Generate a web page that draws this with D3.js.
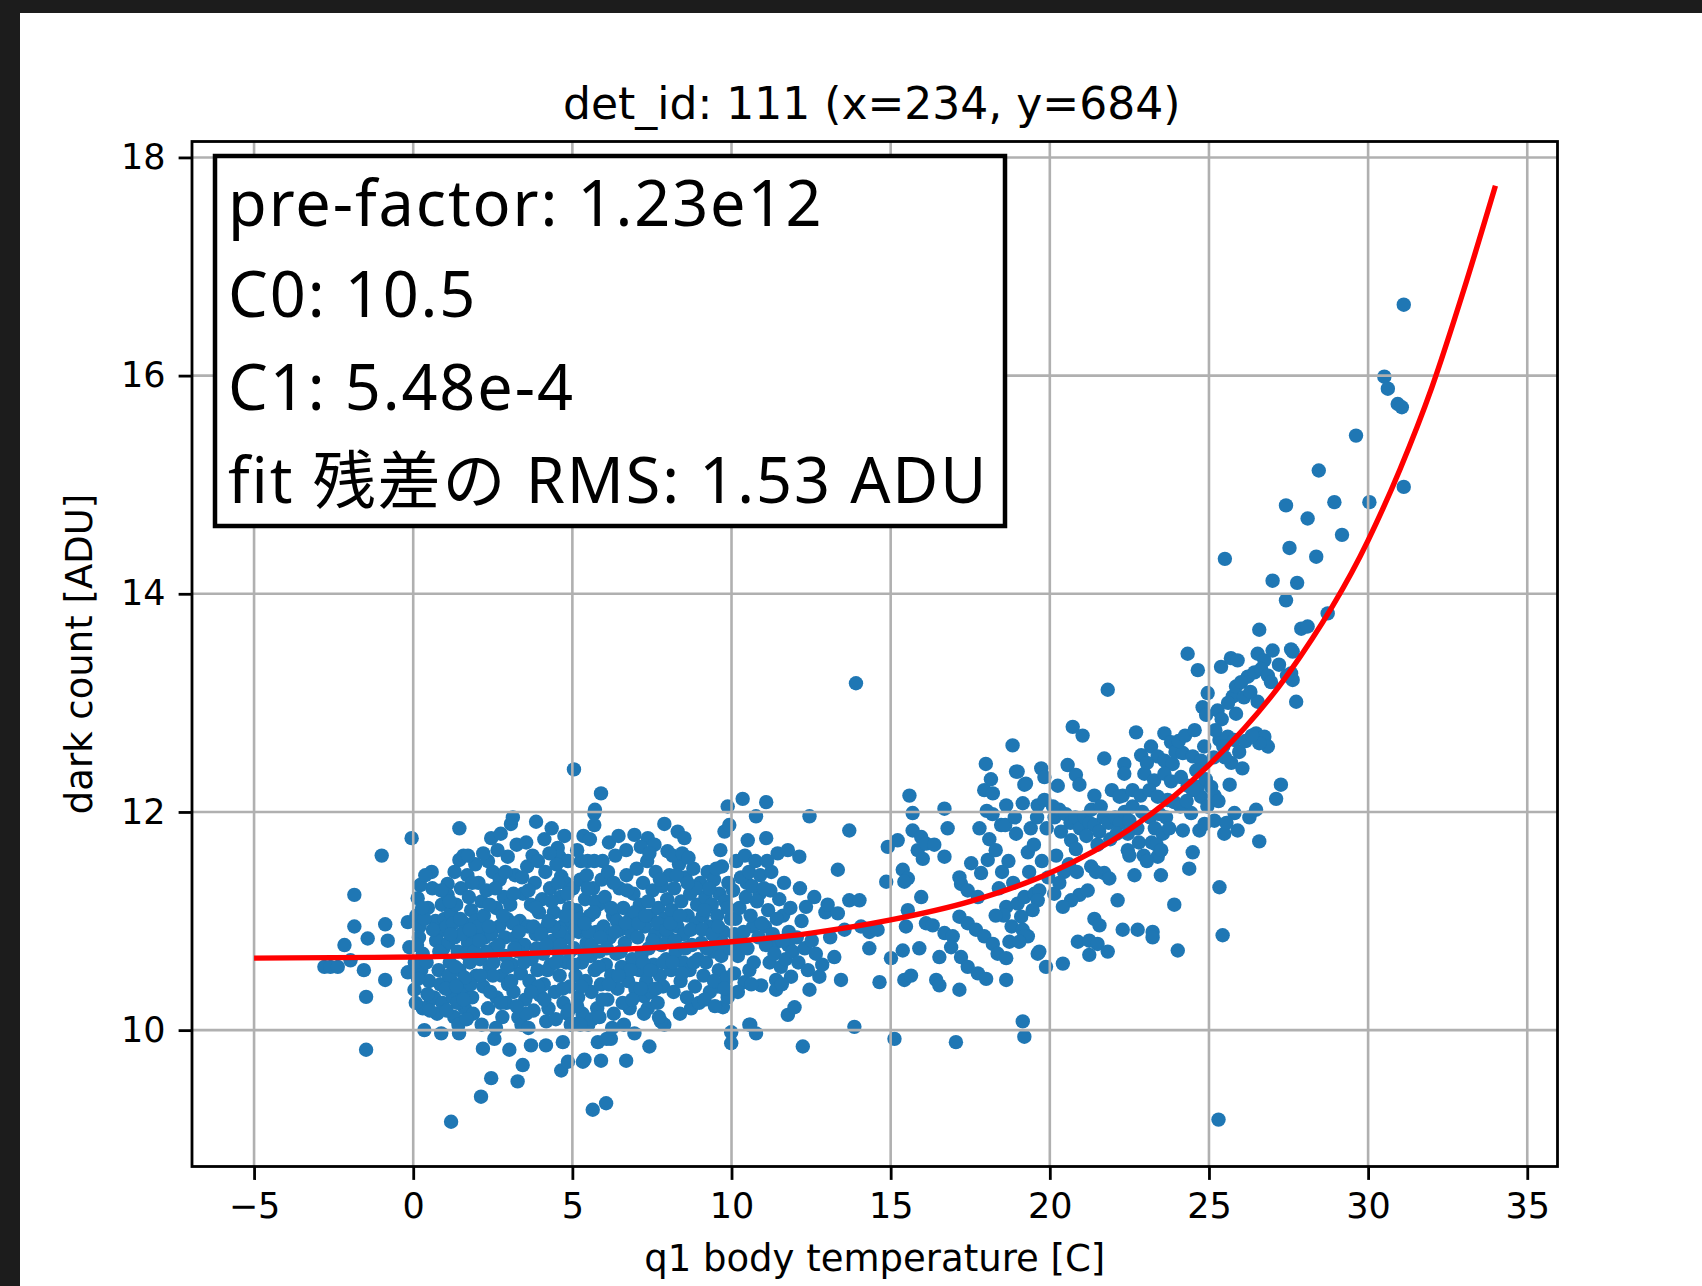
<!DOCTYPE html>
<html>
<head>
<meta charset="utf-8">
<script src="https://cdn.jsdelivr.net/npm/d3@7"></script>
<style>
html, body { margin: 0; padding: 0; background: #1c1c1c; overflow: hidden; }
svg { display: block; }
</style>
</head>
<body>
<svg id="chart" width="1702" height="1286"></svg>
<script>
// ---------------- data ----------------
const titleText = "det_id: 111 (x=234, y=684)";
const xLabelText = "q1 body temperature [C]";
const yLabelText = "dark count [ADU]";
const fitLines = ["pre-factor: 1.23e12", "C0: 10.5", "C1: 5.48e-4", "fit 残差の RMS: 1.53 ADU"];
const xTicks = [-5, 0, 5, 10, 15, 20, 25, 30, 35];
const yTicks = [10, 12, 14, 16, 18];

// fitted curve
const fitTemp  = [-5, -2.5, 0, 2.5, 5, 7.5, 10, 12.5, 15, 17.5, 20, 22.5, 25, 27.5, 30, 31, 32, 33, 34];
const fitCount = [10.66, 10.665, 10.67, 10.69, 10.72, 10.755, 10.81, 10.89, 11.01, 11.18, 11.44, 11.84, 12.43, 13.27, 14.49, 15.14, 15.89, 16.78, 17.74];

// measurements [temperature, dark count]
const pointsCold = [
[-2.79,10.58],[-2.6,10.58],[-2.37,10.58],[-2.16,10.78],[-1.97,10.64],[-1.85,11.24],[-1.85,10.95],[-1.43,10.84],
[-1.55,10.55],[-1.48,10.305],[-1.48,9.82],[-0.99,11.6],[-0.88,10.97],[-0.8,10.82],[-0.88,10.46],[-0.17,10.99],
[-0.17,10.53],[-0.12,10.76],[-0.05,11.76]
];
const pointsCool = [
[0.04,10.37],[0.14,11.21],[0.46,11.12],[0.35,10.0],[0.77,10.89],[0.88,9.97],[0.1,11.05],[0.2,10.95],[0.25,10.55],
[0.3,10.7],[0.05,10.62],[0.5,10.45],[0.55,10.28],[0.6,11.3],[0.7,11.0],[0.65,10.3],[0.8,10.55],[0.85,10.42],
[0.9,11.15],[0.95,10.75],[0.35,11.02],[0.15,10.47],[0.75,10.15],[0.3,10.2],[0.58,11.45],[0.92,10.25],[0.18,10.85],
[0.98,11.02],[0.45,10.33],[0.72,10.82],[0.22,11.33],
[1.08,11.34],[1.08,11.24],[1.19,11.07],[1.29,10.12],[1.19,9.16],[1.45,11.85],[1.45,11.56],[1.44,9.97],[1.05,10.95],
[1.1,10.8],[1.15,10.62],[1.2,10.45],[1.25,10.3],[1.3,10.85],[1.35,11.15],[1.4,10.72],[1.45,10.55],[1.5,11.3],
[1.55,10.38],[1.6,10.98],[1.62,10.2],[1.7,11.42],[1.72,10.8],[1.78,10.62],[1.82,11.1],[1.85,10.3],[1.9,10.9],
[1.95,11.0],[1.98,10.5],[1.3,11.45],[1.52,10.88],[1.66,10.7],[1.12,10.5],[1.38,10.25],[1.88,10.15],[1.58,11.6],
[1.75,11.22],[1.95,11.52],[1.25,10.98],[1.8,10.42],[1.42,10.05],[1.68,10.1],
[2.13,9.39],[2.45,9.56],[2.19,9.83],[2.55,9.92],[2.45,11.76],[2.97,11.59],[2.05,11.35],[2.1,10.65],[2.15,11.18],
[2.2,10.4],[2.25,10.85],[2.3,11.28],[2.35,10.2],[2.4,10.58],[2.5,11.45],[2.55,10.75],[2.6,11.12],[2.62,10.3],
[2.7,10.95],[2.72,11.38],[2.78,10.5],[2.8,10.12],[2.85,11.22],[2.9,10.68],[2.95,11.02],[2.98,10.42],[2.15,10.05],
[2.35,11.55],[2.65,11.65],[2.45,10.88],[2.05,10.95],[2.88,10.85],[2.6,10.02],[2.3,10.72],[2.75,11.8],[2.2,11.62],
[2.5,10.5],[2.92,10.25],
[3.07,11.89],[3.13,11.95],[3.86,11.91],[3.02,9.82],[3.44,9.68],[3.28,9.53],[3.7,9.86],[3.05,11.15],[3.1,10.6],
[3.15,10.35],[3.2,11.42],[3.22,10.85],[3.3,10.12],[3.35,11.0],[3.38,10.52],[3.45,11.25],[3.5,10.78],[3.52,10.28],
[3.58,11.5],[3.6,10.95],[3.65,10.45],[3.7,11.15],[3.72,10.65],[3.78,10.18],[3.82,11.35],[3.85,10.88],[3.9,10.55],
[3.95,11.08],[3.98,10.32],[3.25,11.7],[3.55,11.72],[3.4,10.05],[3.75,11.6],[3.12,10.98],[3.62,10.02],[3.92,11.55],
[3.3,10.72],[3.88,10.75],
[4.12,11.75],[4.54,11.67],[4.59,11.59],[4.65,11.41],[4.86,11.55],[4.17,9.86],[4.7,9.89],[4.65,9.63],[4.86,9.71],
[4.18,10.08],[4.84,10.15],[4.05,11.2],[4.08,10.7],[4.1,10.42],[4.15,11.45],[4.2,10.95],[4.25,10.2],[4.3,11.3],
[4.32,10.6],[4.38,10.82],[4.42,11.08],[4.45,10.35],[4.5,11.52],[4.55,10.72],[4.6,10.5],[4.62,11.22],[4.68,10.95],
[4.72,10.25],[4.78,11.35],[4.8,10.62],[4.85,10.85],[4.9,11.12],[4.92,10.4],[4.95,10.05],[4.98,11.0],[4.28,11.62],
[4.48,10.1],[4.75,11.78],[4.35,11.85],[4.58,10.9],[4.22,10.55],[4.88,10.18]
];
const pointsMild = [
[5.27,11.55],[5.48,11.55],[5.69,11.55],[5.95,11.55],[5.9,12.17],[5.69,11.99],[5.69,11.88],[5.33,9.71],[5.64,9.27],
[5.9,9.72],[5.8,9.89],[5.05,12.39],[5.71,12.02],[5.38,9.73],[5.14,10.06],[5.02,11.3],[5.05,10.75],[5.1,10.5],
[5.12,11.1],[5.18,10.3],[5.2,10.9],[5.25,11.38],[5.3,10.62],[5.32,10.15],[5.4,11.2],[5.42,10.45],[5.45,10.8],
[5.5,10.05],[5.55,11.05],[5.58,10.68],[5.6,10.35],[5.65,11.3],[5.7,10.55],[5.75,10.9],[5.78,10.2],[5.82,11.15],
[5.85,10.72],[5.9,10.42],[5.92,11.38],[5.98,10.95],[5.15,11.65],[5.35,11.78],[5.55,11.75],[5.62,10.1],[5.25,10.05],
[5.85,10.12],[5.45,11.42],[5.72,11.18],[5.08,10.92],
[6.06,9.33],[6.21,9.92],[6.69,9.72],[6.95,11.79],[6.69,11.65],[6.95,9.97],[6.08,9.92],[6.02,11.22],[6.05,10.6],
[6.1,10.28],[6.12,11.45],[6.18,10.85],[6.22,10.5],[6.28,11.05],[6.3,10.15],[6.35,11.6],[6.38,10.7],[6.42,10.38],
[6.48,11.3],[6.5,10.92],[6.55,10.58],[6.6,11.12],[6.62,10.05],[6.65,10.8],[6.7,11.42],[6.75,10.45],[6.8,10.2],
[6.82,11.02],[6.88,10.65],[6.92,11.25],[6.98,10.38],[6.15,11.72],[6.45,11.78],[6.25,10.02],[6.58,10.25],[6.85,10.9],
[6.4,11.0],
[7.37,11.76],[7.89,11.89],[7.99,11.64],[7.42,9.85],[7.26,10.31],[7.37,10.2],[7.89,10.05],[7.78,10.08],[7.02,11.48],
[7.05,10.85],[7.1,10.55],[7.12,11.15],[7.18,10.7],[7.22,11.35],[7.28,10.95],[7.32,10.45],[7.35,11.55],[7.4,10.75],
[7.45,11.05],[7.48,10.35],[7.52,11.28],[7.55,10.6],[7.6,10.88],[7.62,11.45],[7.68,10.25],[7.7,11.12],[7.75,10.5],
[7.8,10.78],[7.82,11.32],[7.85,10.4],[7.9,11.02],[7.95,10.65],[7.98,11.2],[7.15,11.68],[7.58,11.7],[7.72,10.12],
[7.25,10.15],[7.42,11.62],
[8.31,11.82],[8.52,11.76],[8.73,10.2],[8.02,10.85],[8.05,11.42],[8.1,10.55],[8.12,11.1],[8.18,10.35],[8.2,11.3],
[8.25,10.72],[8.3,10.95],[8.35,11.52],[8.4,10.45],[8.42,11.18],[8.48,10.62],[8.5,10.88],[8.55,11.4],[8.6,10.3],
[8.62,11.05],[8.68,10.55],[8.7,11.25],[8.75,10.78],[8.8,11.48],[8.85,10.4],[8.88,10.98],[8.92,11.15],[8.95,10.65],
[8.98,10.25],[8.15,11.6],[8.45,11.62],[8.65,11.58],[8.38,10.15],
[9.88,12.05],[9.78,11.82],[9.93,11.88],[9.57,10.4],[9.73,10.21],[9.99,9.98],[9.99,9.88],[9.02,11.35],[9.05,10.8],
[9.1,11.05],[9.12,10.5],[9.18,11.22],[9.2,10.62],[9.25,11.45],[9.3,10.95],[9.32,10.35],[9.38,11.15],[9.42,10.72],
[9.45,11.38],[9.5,10.85],[9.55,11.05],[9.6,10.55],[9.62,11.25],[9.68,10.68],[9.7,11.5],[9.75,10.9],[9.8,11.18],
[9.85,10.48],[9.9,11.35],[9.95,10.75],[9.98,11.02],[9.15,10.28],[9.48,10.22],[9.88,10.3],[9.65,11.65]
];
// extra readings inside the dense core (0–12 C)
const pointsCore = [
[0.12,10.78],[0.28,11.12],[0.42,10.62],[0.62,10.92],[0.82,10.72],[0.52,10.18],[0.88,11.28],[0.08,10.25],[0.38,11.42],
[1.02,10.38],[1.18,10.88],[1.32,10.58],[1.48,11.02],[1.62,10.48],[1.78,10.92],[1.92,10.72],[1.15,11.18],[1.58,10.28],
[1.85,11.35],[1.35,10.4],[1.05,10.18],[1.72,11.6],
[2.08,10.82],[2.22,11.05],[2.38,10.95],[2.52,10.62],[2.68,10.78],[2.82,11.05],[2.95,10.58],[2.12,10.5],[2.42,10.35],
[2.58,11.3],[2.75,10.25],[2.4,11.15],[2.9,11.45],[3.08,10.45],[3.18,10.75],[3.32,10.9],[3.48,10.62],[3.62,11.28],
[3.78,10.95],[3.92,10.4],[3.42,11.4],[3.7,10.35],[3.15,11.25],[3.55,10.15],[3.85,11.12],[3.25,10.22],
[4.02,10.88],[4.18,10.78],[4.35,11.18],[4.48,10.62],[4.62,10.78],[4.78,11.05],[4.92,10.72],[4.12,10.28],[4.4,10.95],
[4.7,10.38],[4.55,11.35],[4.25,11.0],[4.85,11.25],[5.04,10.6],[5.22,11.02],[5.38,10.7],[5.52,10.9],[5.68,11.08],
[5.82,10.58],[5.95,10.28],[5.28,10.4],[5.6,10.78],[5.15,10.22],[5.48,11.3],[5.88,10.85],[5.38,10.98],
[6.08,10.75],[6.22,11.12],[6.35,10.9],[6.52,10.72],[6.68,10.98],[6.82,10.55],[6.95,11.08],[6.15,10.42],[6.45,10.5],
[6.72,11.28],[6.3,11.35],[6.88,10.28],[7.08,10.98],[7.22,10.62],[7.38,11.18],[7.52,10.82],[7.68,10.98],[7.85,10.62],
[7.95,10.92],[7.15,10.38],[7.45,10.55],[7.75,11.38],[7.3,11.05],[7.62,10.38],
[8.08,10.98],[8.22,10.82],[8.38,11.05],[8.55,10.75],[8.72,10.92],[8.88,11.3],[8.28,11.42],[8.62,11.35],[8.45,10.52],
[8.82,10.62],[8.15,10.62],[9.08,10.92],[9.22,10.75],[9.4,10.88],[9.58,10.95],[9.72,10.8],[9.88,11.12],[9.3,11.3],
[9.52,11.48],[9.15,11.1],[9.45,10.45],[9.78,10.38],
[10.12,11.02],[10.32,10.78],[10.48,11.35],[10.68,10.95],[10.88,11.25],[11.05,10.95],[11.22,11.28],[11.38,10.8],
[11.62,11.05],[11.78,10.78]
];
const pointsWarm = [
[10.35,12.12],[10.77,11.96],[10.51,11.74],[10.41,10.44],[10.56,10.55],[10.56,10.05],[10.77,9.97],[10.93,10.41],
[10.59,10.05],[10.05,11.28],[10.1,10.88],[10.15,11.55],[10.2,10.68],[10.25,11.12],[10.3,11.4],[10.38,10.9],
[10.42,11.6],[10.45,11.22],[10.5,10.75],[10.55,11.45],[10.6,11.05],[10.65,11.32],[10.7,10.62],[10.75,11.55],
[10.8,11.18],[10.85,10.85],[10.9,11.42],[10.95,10.98],[10.2,10.35],[10.62,10.42],[10.08,10.52],
[11.09,12.09],[11.09,11.76],[11.45,11.62],[11.77,11.65],[11.4,10.46],[11.4,10.37],[11.87,10.49],[11.77,10.14],
[11.98,10.21],[11.02,11.3],[11.08,10.78],[11.15,11.1],[11.2,10.62],[11.25,11.45],[11.3,10.88],[11.35,10.7],
[11.5,11.2],[11.55,10.58],[11.6,10.82],[11.65,11.35],[11.7,10.65],[11.8,10.9],[11.85,11.12],[11.92,10.72],
[11.12,11.55],[11.42,11.02],[11.58,10.42],
[12.45,11.96],[12.13,11.59],[12.6,11.22],[12.34,11.13],[12.76,10.49],[12.45,10.37],[12.24,9.85],[12.05,10.85],
[12.1,10.62],[12.2,11.0],[12.3,10.75],[12.4,10.55],[12.52,10.82],[12.65,10.7],[12.85,10.6],[12.95,11.08],[12.15,11.3],
[13.02,11.15],[13.34,11.07],[13.7,11.19],[13.23,10.67],[13.44,10.46],[13.86,10.03],[13.34,11.47],[13.7,11.83],
[13.91,13.18],[13.1,10.85],[13.55,10.92],
[14.02,11.19],[14.07,10.95],[14.33,10.9],[14.59,10.92],[14.33,10.75],[14.65,10.44],[14.91,11.68],[14.86,11.36],
[15.12,9.92],[15.22,11.74],[15.59,12.15],[15.69,11.99],[15.69,11.83],[15.96,11.77],[15.85,11.65],[15.38,11.47],
[15.54,11.39],[15.43,11.36],[15.96,11.22],[15.54,11.1],[15.48,10.95],[15.01,10.66],[15.38,10.73],[15.9,10.75],
[15.43,10.46],[15.64,10.5],
[16.11,11.71],[16.37,11.7],[16.01,11.57],[16.69,12.03],[16.79,11.85],[16.69,11.59],[16.11,10.98],[16.32,10.96],
[16.43,10.46],[16.53,10.41],[16.53,10.67],[16.69,10.89],[16.95,10.86],[16.9,10.76],
[17.16,10.37],[17.05,9.89],[17.79,11.85],[17.99,12.44],[17.94,12.2],[17.53,11.53],[17.84,11.44],[17.21,11.34],
[17.42,11.28],[17.74,11.22],[17.16,11.04],[17.42,10.98],[17.68,10.92],[17.94,10.86],[17.21,10.67],[17.42,10.58],
[17.74,10.52],[17.16,11.4],
[18.21,12.17],[18.05,11.56],[18.21,10.79],[18.36,10.7],[18.0,10.47],[18.47,11.88],[18.94,12.37],[18.63,12.06],
[18.94,11.8],[18.63,10.46],[18.63,11.13],[18.99,11.16],[18.73,10.81],[18.83,12.61],[18.02,12.01],[18.2,11.98],
[18.1,11.75],[18.3,11.65],[18.5,11.45],[18.4,11.3],[18.7,11.55],[18.85,11.35],[18.55,11.05],[18.8,10.95],
[18.3,11.05],[18.6,11.88],[18.9,11.95],[18.15,12.3],[18.63,10.66],
[19.2,12.25],[19.73,12.4],[19.83,12.32],[19.15,12.08],[19.62,12.06],[19.83,12.11],[19.31,11.63],[19.2,11.22],
[19.52,11.25],[19.15,10.92],[19.31,10.86],[19.62,10.7],[19.88,10.58],[19.15,10.08],[19.2,9.94],[19.67,11.28],
[19.62,11.19],[19.46,11.1],[19.1,11.04],[19.2,10.86],[19.04,10.81],[19.67,10.72],[18.99,12.37],[19.25,12.26],
[19.4,11.85],[19.6,11.95],[19.9,11.85],[19.5,11.7],[19.75,11.55],[19.95,11.4],[19.35,11.45]
];
const pointsHot = [
[20.72,12.78],[20.67,11.74],[20.82,11.66],[20.93,11.24],[20.67,11.19],[20.41,11.13],[20.14,11.25],[20.88,10.81],
[20.41,10.61],[20.56,12.43],[20.82,12.34],[20.93,12.25],[20.25,12.24],[20.15,11.95],[20.3,12.02],[20.5,11.98],
[20.65,11.9],[20.8,11.95],[20.95,11.85],[20.35,11.82],[20.2,11.6],[20.45,11.45],[20.6,11.52],[20.85,11.45],
[20.3,11.35],[20.1,12.05],
[21.03,12.7],[21.82,13.12],[21.71,12.49],[21.4,12.15],[21.71,11.44],[21.87,11.39],[21.4,11.02],[21.56,10.96],
[21.24,10.82],[21.5,10.79],[21.82,10.72],[21.24,10.69],[21.3,11.5],[21.45,11.45],[21.19,11.28],[21.1,11.95],
[21.25,11.9],[21.4,11.88],[21.55,11.82],[21.7,11.95],[21.85,11.9],[21.3,12.02],[21.6,12.05],[21.15,11.78],
[21.5,11.7],[21.9,11.75],[21.95,12.2],
[22.71,12.73],[22.45,11.65],[22.5,11.6],[22.66,11.42],[22.13,11.19],[22.29,10.92],[22.76,10.92],[22.34,12.44],
[22.34,12.35],[22.29,12.15],[22.19,12.14],[22.87,12.52],[22.97,12.35],[22.05,11.95],[22.2,11.9],[22.35,12.0],
[22.5,11.92],[22.6,12.05],[22.75,11.85],[22.9,12.0],[22.45,11.8],[22.8,11.72],[22.1,11.8],[22.6,12.2],
[22.85,12.15],[22.95,11.6],
[23.6,12.72],[23.81,12.64],[23.49,11.42],[23.39,11.59],[23.23,10.9],[23.23,10.85],[23.91,11.15],[23.18,12.6],
[23.39,12.51],[23.6,12.47],[23.86,12.44],[23.28,12.29],[23.6,12.35],[23.81,12.28],[23.13,12.2],[23.39,12.14],
[23.7,12.11],[23.91,12.09],[23.05,12.45],[23.15,11.95],[23.3,11.85],[23.45,11.98],[23.55,11.8],[23.65,11.95],
[23.2,11.72],[23.35,11.7],[23.5,11.65],[23.75,11.85],[23.05,11.55],[23.95,12.55],
[24.33,13.45],[24.65,13.3],[24.96,13.09],[24.8,12.96],[24.91,12.89],[24.7,11.83],[24.86,11.89],[24.44,11.99],
[24.18,11.83],[24.49,11.63],[24.38,11.48],[24.02,10.73],[24.18,12.54],[24.49,12.51],[24.75,12.47],[24.12,12.32],
[24.33,12.24],[24.65,12.23],[24.75,12.14],[24.49,12.2],[24.05,12.65],[24.25,12.7],[24.55,12.75],[24.85,12.6],
[24.6,12.38],[24.9,12.3],[24.1,12.05],[24.3,12.1],[24.95,12.05],
[25.38,13.33],[25.69,13.41],[25.9,13.39],[25.27,12.93],[25.33,12.66],[25.59,12.69],[25.8,12.66],[25.8,11.99],
[25.9,11.83],[25.48,11.8],[25.17,11.92],[25.33,11.31],[25.43,10.87],[25.07,12.23],[25.17,12.15],[25.75,13.06],
[25.85,12.9],[25.85,13.15],[25.5,14.32],[25.3,9.18],[25.6,13.0],[25.4,12.85],[25.95,12.55],[25.7,12.45],
[25.15,12.5],[25.5,12.5],[25.65,12.25],[25.3,12.1],[25.55,11.9],[25.2,12.75],[25.45,12.6],
[26.58,13.67],[26.53,13.45],[26.74,13.39],[26.22,13.24],[26.43,13.28],[26.64,13.31],[26.85,13.25],[26.95,13.19],
[26.01,13.19],[26.53,13.01],[26.48,12.72],[26.74,12.69],[26.85,12.6],[26.58,12.63],[26.48,12.02],[26.27,11.95],
[26.58,11.73],[26.1,13.05],[26.3,13.1],[26.15,12.65],[26.35,12.7],[26.05,12.4],
[27.0,13.48],[27.63,13.47],[27.42,13.94],[27.58,13.27],[27.63,13.21],[27.74,13.01],[27.26,12.25],[27.11,12.12],
[27.42,14.81],[27.53,14.42],[27.0,14.12],[27.77,14.1],[27.58,13.49],[27.9,13.68],[27.2,13.35],[27.45,13.25],
[28.1,13.7],[28.73,13.82],[28.45,15.13],[28.94,14.84],[28.1,14.69],[28.37,14.34],[29.62,15.45],[29.18,14.54],
[30.04,14.84],[30.51,15.99],[30.62,15.88],[30.93,15.74],[31.06,15.71],[31.12,16.65],[31.12,14.98]
];

// ---------------- drawing ----------------
const W = 1702, H = 1286;
const plot = { left: 192, right: 1557.5, top: 141.5, bottom: 1166.5 };
const FONT = "'DejaVu Sans', sans-serif";

const svg = d3.select("#chart");
svg.append("rect").attr("width", W).attr("height", H).attr("fill", "#1c1c1c");
svg.append("rect").attr("x", 20).attr("y", 13).attr("width", W - 20).attr("height", H - 13).attr("fill", "#ffffff");

const x = d3.scaleLinear().domain([-6.95, 35.95]).range([plot.left, plot.right]);
const y = d3.scaleLinear().domain([8.75, 18.146]).range([plot.bottom, plot.top]);

const allPoints = [].concat(pointsCold, pointsCool, pointsMild, pointsCore, pointsWarm, pointsHot);

svg.append("clipPath").attr("id", "plotclip").append("rect")
  .attr("x", plot.left).attr("y", plot.top)
  .attr("width", plot.right - plot.left).attr("height", plot.bottom - plot.top);

// scatter
svg.append("g").attr("clip-path", "url(#plotclip)")
  .selectAll("circle").data(allPoints).join("circle")
  .attr("cx", d => x(d[0])).attr("cy", d => y(d[1]))
  .attr("r", 7.2).attr("fill", "#1f77b4");

// grid (drawn over the scatter, as in the reference)
const grid = svg.append("g").attr("stroke", "#b0b0b0").attr("stroke-width", 2.6);
grid.selectAll("line.vx").data(xTicks).join("line").attr("class", "vx")
  .attr("x1", d => x(d)).attr("x2", d => x(d))
  .attr("y1", plot.top).attr("y2", plot.bottom);
grid.selectAll("line.hy").data(yTicks).join("line").attr("class", "hy")
  .attr("x1", plot.left).attr("x2", plot.right)
  .attr("y1", d => y(d)).attr("y2", d => y(d));

// fitted curve
const fitLine = d3.line()
  .x((d, i) => x(fitTemp[i]))
  .y((d, i) => y(fitCount[i]))
  .curve(d3.curveMonotoneX);
svg.append("path").datum(fitTemp)
  .attr("d", fitLine)
  .attr("fill", "none").attr("stroke", "#ff0000").attr("stroke-width", 5.4)
  .attr("stroke-linecap", "butt");

// axes
const minusFmt = d => (d < 0 ? "\u2212" + Math.abs(d) : String(d));
const gx = svg.append("g").attr("transform", `translate(0,${plot.bottom})`)
  .call(d3.axisBottom(x).tickValues(xTicks).tickSize(13.4).tickPadding(13).tickFormat(minusFmt));
const gy = svg.append("g").attr("transform", `translate(${plot.left},0)`)
  .call(d3.axisLeft(y).tickValues(yTicks).tickSize(13.4).tickPadding(13).tickFormat(d3.format("d")));
[gx, gy].forEach(g => {
  g.select(".domain").remove();
  g.selectAll(".tick line").attr("stroke", "#000").attr("stroke-width", 2.8);
  g.selectAll(".tick text").attr("fill", "#000").attr("font-family", FONT).attr("font-size", 35);
});

// spines
svg.append("rect")
  .attr("x", plot.left).attr("y", plot.top)
  .attr("width", plot.right - plot.left).attr("height", plot.bottom - plot.top)
  .attr("fill", "none").attr("stroke", "#000").attr("stroke-width", 2.8);

// title and axis labels
svg.append("text").attr("x", (plot.left + plot.right) / 2 - 3).attr("y", 119)
  .attr("text-anchor", "middle").attr("font-family", FONT).attr("font-size", 44).attr("fill", "#000")
  .text(titleText);
svg.append("text").attr("x", (plot.left + plot.right) / 2).attr("y", 1271)
  .attr("text-anchor", "middle").attr("font-family", FONT).attr("font-size", 37).attr("fill", "#000")
  .text(xLabelText);
svg.append("text")
  .attr("transform", `translate(92,${(plot.top + plot.bottom) / 2}) rotate(-90)`)
  .attr("text-anchor", "middle").attr("font-family", FONT).attr("font-size", 37).attr("fill", "#000")
  .text(yLabelText);

// annotation box
const box = svg.append("g");
box.append("rect").attr("x", 215).attr("y", 156).attr("width", 790).attr("height", 370)
  .attr("fill", "#ffffff").attr("stroke", "#000").attr("stroke-width", 4.5);
const baselines = [225.7, 317.3, 410, 503.3];
box.selectAll("text").data(fitLines).join("text")
  .attr("x", 228).attr("y", (d, i) => baselines[i])
  .attr("font-family", "'Noto Sans', 'Noto Sans CJK JP', sans-serif")
  .attr("font-size", 63).attr("letter-spacing", 1.9).attr("fill", "#000")
  .text(d => d);
</script>
</body>
</html>
